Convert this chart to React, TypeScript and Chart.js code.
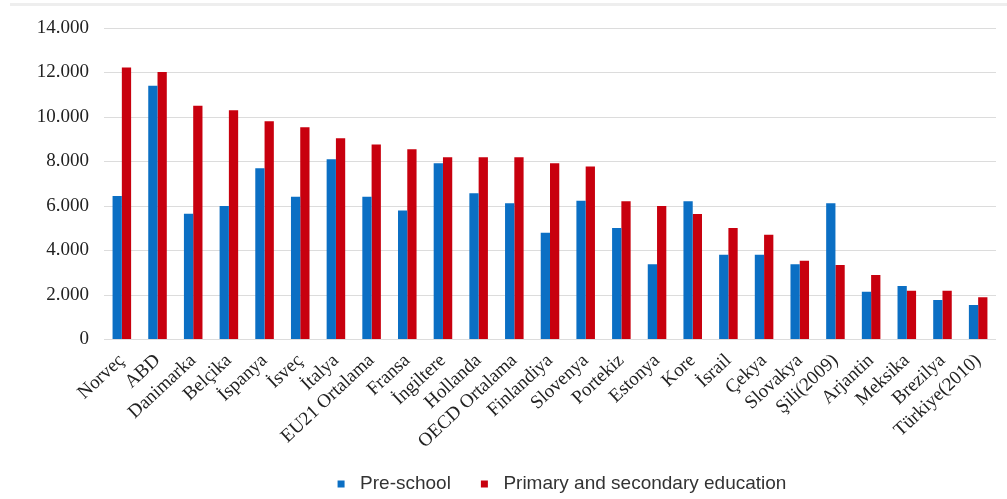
import React, { useEffect, useRef } from "react";
import { Chart, registerables } from "chart.js";

Chart.register(...registerables);

const categories = [
  "Norveç", "ABD", "Danimarka", "Belçika", "İspanya", "İsveç", "İtalya",
  "EU21 Ortalama", "Fransa", "İngiltere", "Hollanda", "OECD Ortalama",
  "Finlandiya", "Slovenya", "Portekiz", "Estonya", "Kore", "İsrail",
  "Çekya", "Slovakya", "Şili(2009)", "Arjantin", "Meksika", "Brezilya",
  "Türkiye(2010)",
];

const preSchool = [
  6450, 11400, 5650, 6000, 7700, 6420, 8100, 6420, 5800, 7920, 6570, 6120,
  4800, 6240, 5010, 3380, 6210, 3810, 3810, 3380, 6120, 2150, 2400, 1780, 1550,
];

const primarySecondary = [
  12220, 12020, 10510, 10300, 9810, 9540, 9040, 8760, 8550, 8190, 8190, 8190,
  7920, 7770, 6210, 6000, 5640, 5010, 4710, 3540, 3350, 2900, 2190, 2190, 1900,
];

const yTicks = [0, 2000, 4000, 6000, 8000, 10000, 12000, 14000];

const seriesNames = ["Pre-school", "Primary and secondary education"];

function formatThousands(v: number): string {
  return String(v).replace(/\B(?=(\d{3})+(?!\d))/g, ".");
}

const legendShift = {
  id: "legendShift",
  afterLayout(chart: any) {
    const lg = chart.legend;
    if (lg) {
      lg.left += 61;
      lg.right += 61;
    }
  },
};

export default function App() {
  const canvasRef = useRef<HTMLCanvasElement | null>(null);

  useEffect(() => {
    if (!canvasRef.current) return;
    const chart = new Chart(canvasRef.current, {
      type: "bar",
      data: {
        labels: categories,
        datasets: [
          {
            label: seriesNames[0],
            data: preSchool,
            backgroundColor: "#0B6FC4",
            categoryPercentage: 0.52,
            barPercentage: 1.0,
          },
          {
            label: seriesNames[1],
            data: primarySecondary,
            backgroundColor: "#C8000E",
            categoryPercentage: 0.52,
            barPercentage: 1.0,
          },
        ],
      },
      plugins: [legendShift],
      options: {
        animation: false,
        responsive: false,
        maintainAspectRatio: false,
        layout: { padding: { top: 28, right: 11, left: 0, bottom: -4.5 } },
        plugins: {
          legend: {
            position: "bottom",
            labels: {
              usePointStyle: true,
              pointStyle: "rect",
              boxWidth: 19,
              boxHeight: 7,
              padding: 24,
              color: "#333333",
              font: { family: "'Liberation Sans', Arial, sans-serif", size: 19 },
            },
          },
          tooltip: { enabled: false },
        },
        scales: {
          x: {
            grid: { display: false },
            border: { display: false },
            ticks: {
              autoSkip: false,
              minRotation: 43,
              maxRotation: 43,
              color: "#222222",
              padding: 2,
              font: { family: "'Liberation Serif', 'Times New Roman', serif", size: 19 },
            },
            afterFit: (scale: any) => {
              scale.height = 111;
            },
          },
          y: {
            min: 0,
            max: 14000,
            afterBuildTicks: (scale: any) => {
              scale.ticks = yTicks.map((v) => ({ value: v }));
            },
            grid: { color: "#DCDCDC", drawTicks: false },
            border: { display: false },
            ticks: {
              padding: 15,
              color: "#222222",
              font: { family: "'Liberation Serif', 'Times New Roman', serif", size: 19 },
              callback: (v: any) => formatThousands(Number(v)),
            },
            afterFit: (scale: any) => {
              scale.width = 104;
            },
          },
        },
      },
    });
    return () => chart.destroy();
  }, []);

  return (
    <div
      style={{
        position: "fixed",
        left: 0,
        top: 0,
        width: 1007,
        height: 499,
        background: "#ffffff",
      }}
    >
      <div
        style={{
          position: "absolute",
          left: 10,
          top: 3,
          width: 997,
          height: 3,
          background: "#EEEEEE",
        }}
      />
      <canvas
        ref={canvasRef}
        width={1007}
        height={499}
        style={{ position: "absolute", left: 0, top: 0, width: 1007, height: 499 }}
      />
    </div>
  );
}
